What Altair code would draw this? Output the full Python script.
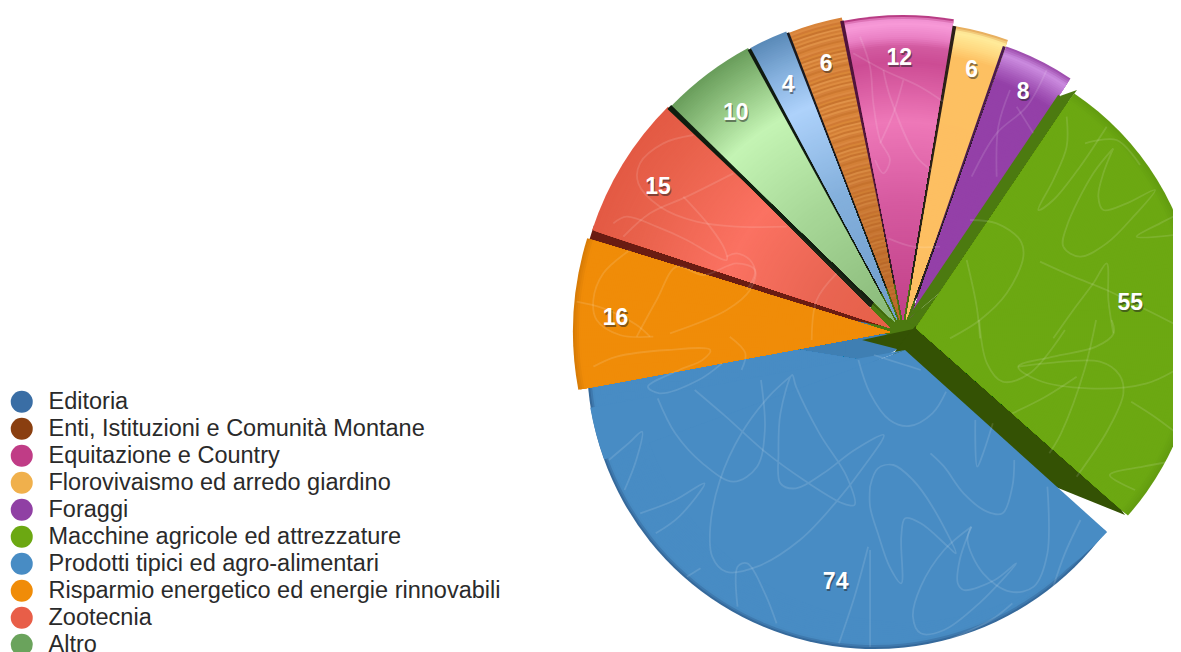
import altair as alt
import pandas as pd

categories = ["Editoria", "Enti, Istituzioni e Comunità Montane", "Equitazione e Country",
              "Florovivaismo ed arredo giardino", "Foraggi", "Macchine agricole ed attrezzature",
              "Prodotti tipici ed agro-alimentari", "Risparmio energetico ed energie rinnovabili",
              "Zootecnia", "Altro"]
values = [4, 6, 12, 6, 8, 55, 74, 16, 15, 10]
legend_colors = ["#3a6ea5", "#8a3f10", "#c03c86", "#f0b04c", "#9040a4", "#6ca812",
                 "#488cc4", "#f08c08", "#e85e48", "#6aa35c"]

OFFX = 8
OFFY = 8


def px(v):
    return v - OFFX


def py(v):
    return v - OFFY


total_order = ["Macchine agricole ed attrezzature", "Prodotti tipici ed agro-alimentari",
               "Risparmio energetico ed energie rinnovabili", "Zootecnia", "Altro", "Editoria",
               "Enti, Istituzioni e Comunità Montane", "Equitazione e Country",
               "Florovivaismo ed arredo giardino", "Foraggi"]
vmap = dict(zip(categories, values))
cum = {}
acc = 0
for c in total_order:
    cum[c] = (acc, acc + vmap[c])
    acc += vmap[c]


def lerp(a, b, t):
    pa = [int(a[i:i + 2], 16) for i in (1, 3, 5)]
    pb = [int(b[i:i + 2], 16) for i in (1, 3, 5)]
    return "#" + "".join(f"{round(x + (y - x) * t):02x}" for x, y in zip(pa, pb))


def ramp(stops, f):
    for (f0, c0), (f1, c1) in zip(stops, stops[1:]):
        if f <= f1:
            return lerp(c0, c1, (f - f0) / (f1 - f0) if f1 > f0 else 0)
    return stops[-1][1]


def rings(cat, stops, r, step=2.0):
    s, e = cum[cat]
    rows = []
    rad = r
    while rad > 0:
        rows.append({"start": s, "end": e, "r": rad, "c": ramp(stops, rad / r)})
        rad -= step
    return pd.DataFrame(rows)


def wedge(df, apex, dom, deg):
    t0, t1 = [d * 3.14159265 / 180 for d in deg]
    return alt.Chart(df).mark_arc().encode(
        x=alt.value(px(apex[0])), y=alt.value(py(apex[1])),
        theta=alt.Theta("start:Q", stack=None, scale=alt.Scale(domain=list(dom), range=[t0, t1])),
        theta2="end:Q",
        radius=alt.Radius("r:Q", scale=None),
        color=alt.Color("c:N", scale=None),
    )


def flat(cat, color, r, apex, deg):
    s, e = cum[cat]
    df = pd.DataFrame([{"start": s, "end": e, "r": r, "c": color}])
    return wedge(df, apex, (s, e), deg)


GREEN, BLUE, ORANGE, ZOO, ALT, EDI, ENTI, PINK, YEL, PUR = total_order

STOPS = {
    GREEN: [(0, "#6ca812"), (0.97, "#6ca812"), (1, "#639c10")],
    BLUE: [(0, "#488cc4"), (0.985, "#488cc4"), (1, "#35699b")],
    ORANGE: [(0, "#f08c08"), (0.98, "#f08c08"), (1, "#d87c06")],
    ZOO: [(0, "#e66048"), (0.25, "#e96552"), (0.55, "#fb7262"), (0.85, "#e9624c"), (1, "#e35a44")],
    ALT: [(0, "#88b878"), (0.45, "#a8d898"), (0.75, "#c4f4b4"), (0.88, "#95c785"), (1, "#6a9e5c")],
    EDI: [(0, "#6f9ccb"), (0.45, "#84b0dc"), (0.75, "#aed2fb"), (0.88, "#86b1de"), (1, "#5b8bb9")],
    PINK: [(0, "#c04088"), (0.39, "#d65aa0"), (0.655, "#ee78b8"), (0.85, "#cc4c94"), (0.9, "#d25aa0"),
           (0.93, "#ea80c4"), (0.975, "#f79ad8"), (0.99, "#f090d0"), (1, "#b83c84")],
    YEL: [(0, "#fdbe62"), (0.9, "#fdc062"), (0.94, "#ffd880"), (0.985, "#ffec9c"), (1, "#e8b060")],
    PUR: [(0, "#9440a8"), (0.88, "#9440a8"), (0.92, "#a85cbc"), (0.975, "#cc8ce0"), (1, "#a050b0")],
}
wood = ["#d8843a", "#dc8a42", "#d07a34", "#d98738", "#c8742e", "#e09248", "#d27e36", "#dd8c40",
        "#ca7630", "#df9046", "#d4803a", "#cc7830"]

# apex, radius, angular span on the drawing (perspective of the picture)
GEOM = {
    PUR: ((910, 320), 290, (19.4, 33.6)),
    YEL: ((906, 320), 298, (9.6, 20.0)),
    PINK: ((903, 320), 305, (348.8, 369.6)),
    ENTI: ((900, 320), 308, (338.9, 349.1)),
    EDI: ((897, 320), 309, (331.7, 339.0)),
    ALT: ((895, 322), 311, (314.0, 331.8)),
    ZOO: ((890, 328), 313.5, (288.2, 314.9)),
    ORANGE: ((890, 332), 317, (259.5, 287.2)),
    GREEN: ((916, 328), 283, (34.0, 131.5)),
}
LABEL_GEOM = {
    ZOO: ((890, 325), (287.7, 314.5), 271),
    ORANGE: ((890, 333), (259.65, 287.4), 275),
    BLUE: ((905, 350), (133, 260.6), 240),
    GREEN: ((916, 328), (34.0, 131.8), 216),
    PUR: ((910, 320), (19.4, 33.1), 256),
    YEL: ((905, 320), (9.6, 20.0), 261),
    PINK: ((903, 320), (348.8, 369.6), 264),
    ENTI: ((900, 320), (338.9, 349.1), 268),
    EDI: ((897, 320), (331.7, 339.0), 261),
    ALT: ((895, 322), (314.0, 331.8), 264),
}

# faint hand-drawn scribbles
ZX, ZY = 2.566, 3.0
blue_scribbles = [
    [(225, 235), (270, 340), (340, 430), (420, 485), (480, 440), (500, 330), (490, 180)],
    [(320, 210), (400, 290), (500, 395), (600, 480), (700, 550), (730, 555), (710, 470), (640, 340), (580, 200),
     (570, 165), (540, 280), (535, 400), (540, 490), (580, 505), (650, 460), (730, 390), (805, 345), (760, 430),
     (680, 550), (590, 660), (480, 740), (400, 755), (365, 710), (360, 620), (385, 480), (440, 340), (510, 230), (565, 170)],
    [(740, 120), (770, 220), (820, 300), (870, 318), (930, 280), (965, 215)],
    [(780, 105), (860, 135), (900, 150)],
    [(1040, 300), (1045, 440), (1060, 400), (1085, 310)],
    [(925, 400), (960, 440), (1010, 520), (1070, 575), (1110, 580), (1135, 500), (1140, 420)],
    [(770, 500), (790, 445), (830, 435), (880, 480), (930, 560), (990, 700), (970, 680), (900, 610), (860, 595),
     (850, 650), (850, 790), (820, 740), (790, 640), (770, 560), (770, 500)],
    [(1030, 620), (1020, 660), (1060, 760), (1130, 815), (1190, 800), (1225, 700), (1225, 500)],
    [(1030, 620), (960, 690), (900, 800), (880, 890), (900, 940), (960, 930), (1050, 850), (1145, 730), (1090, 780),
     (1010, 810), (995, 790), (1000, 720), (1030, 620)],
    [(765, 680), (730, 830), (690, 970)],
    [(770, 690), (770, 980)],
    [(430, 860), (430, 740), (455, 730), (500, 820), (530, 910)],
    [(100, 420), (150, 370), (185, 335), (170, 420), (140, 510)],
    [(180, 580), (270, 540), (345, 490), (280, 590), (220, 640)],
    [(335, 745), (300, 770)],
    [(1135, 850), (1080, 900), (950, 970)],
    [(1310, 600), (1270, 700), (1240, 800)],
    [(1050, 0), (1070, 130), (1110, 185), (1180, 160), (1270, 30)],
    [(1390, 0), (1395, 40), (1350, 80), (1240, 110), (1150, 140), (1200, 180), (1330, 205), (1480, 190), (1568, 140)],
    [(1150, 140), (1220, 130), (1360, 125), (1410, 165), (1420, 220), (1380, 330), (1300, 470)],
    [(1350, 0), (1320, 150), (1260, 340), (1230, 400)],
    [(1440, 245), (1500, 290), (1568, 350)],
    [(1568, 420), (1470, 440), (1385, 465), (1450, 510)],
    [(1135, 280), (1220, 230), (1300, 170)],
    [(60, 140), (120, 110), (250, 90), (360, 90), (340, 120), (280, 150), (200, 200), (230, 220), (330, 180), (390, 130)],
    [(410, 50), (450, 100), (440, 150)],
]
upper_scribbles_right = [
    [(680, 350), (680, 440), (640, 540), (595, 630), (640, 600), (720, 500), (800, 380)],
    [(820, 445), (760, 520), (680, 680), (670, 740), (720, 770), (800, 730), (880, 650), (945, 570), (860, 610),
     (790, 630), (775, 590), (790, 520), (820, 445)],
    [(735, 430), (830, 420), (900, 495)],
    [(1020, 640), (960, 670), (890, 710), (1000, 705)],
    [(600, 785), (700, 830), (800, 870), (900, 920), (1020, 980)],
    [(640, 1015), (700, 930), (760, 850), (800, 790), (805, 900), (820, 1000)],
    [(390, 660), (470, 670), (540, 720), (550, 770), (500, 880), (420, 960), (330, 1015)],
    [(380, 780), (410, 920), (420, 1015)],
    [(60, 110), (90, 200), (100, 310), (120, 420), (150, 480), (130, 520), (105, 480)],
    [(40, 160), (130, 210), (240, 260), (310, 305)],
    [(130, 210), (150, 290), (230, 470), (275, 510)],
    [(190, 240), (160, 340), (120, 430)],
    [(145, 715), (220, 740), (300, 740)],
    [(620, 210), (560, 320), (470, 400), (395, 530)],
    [(510, 270), (475, 380), (470, 530)],
    [(530, 320), (580, 400)],
]
upper_scribbles_left = [
    [(20, 905), (100, 925), (200, 975), (240, 1010)],
    [(180, 750), (100, 820), (70, 900), (80, 960), (150, 1005), (250, 1010)],
    [(200, 1010), (260, 900), (320, 800), (400, 825), (500, 790), (555, 810), (540, 870), (470, 930), (300, 1000)],
    [(800, 820), (740, 900), (725, 1020)],
    [(370, 405), (280, 430), (210, 490), (205, 550), (270, 620), (380, 665), (500, 680), (650, 680)],
    [(490, 520), (350, 590), (240, 640), (160, 710)],
    [(130, 670), (170, 650), (260, 680), (350, 720), (420, 760), (470, 780), (465, 750), (420, 680), (340, 590)],
    [(470, 770), (500, 760), (540, 780), (555, 820), (530, 870)],
]
rows = []
sid = 0
for pts, ox, oy, sx, sy in [
    (blue_scribbles, 570, 320, ZX, ZY),
    (upper_scribbles_right, 840, 0, 3, 3),
    (upper_scribbles_left, 570, 0, 3, 3),
]:
    for line in pts:
        sid += 1
        for k, (a, b) in enumerate(line):
            rows.append({"id": sid, "k": k, "x": px(ox + a / sx), "y": py(oy + b / sy)})
scribble_df = pd.DataFrame(rows)

layers = []
dark_lo = "#345204"
dark_up = "#4c7a10"
# dark hub under the fan
layers.append(flat(PINK, "#1c2414", 280, (902, 322), (295, 392)))
layers.append(flat(GREEN, dark_up, 55, (920, 332), (272, 350)))
layers.append(flat(GREEN, dark_up, 24, (905, 326), (0, 360)))
# lighter strip of the big slice, seen under the orange slice
layers.append(flat(BLUE, "#3f7fb3", 295, (880, 333), (215, 285)))
layers.append(flat(BLUE, "#3f7fb3", 60, (905, 345), (240, 300)))
layers.append(flat(GREEN, dark_lo, 62, (862, 340), (78, 104.4)))
# lower wall of the green slice
layers.append(flat(GREEN, dark_lo, 282, (1125, 515), (292, 325)))
# blue face
layers.append(wedge(rings(BLUE, STOPS[BLUE], 287), (874, 362), cum[BLUE], (126.1, 279.2)))
layers.append(flat(BLUE, "#488cc4", 320, (905, 350), (250, 259.6)))
layers.append(flat(BLUE, "#488cc4", 272, (905, 350), (132, 250)))

# dark red wall seen between the orange and the red slices
layers.append(flat(ZOO, "#6a1c12", 313, (890, 327), (280, 289)))
for cat in [ORANGE]:
    apex, r, deg = GEOM[cat]
    layers.append(wedge(rings(cat, STOPS[cat], r), apex, cum[cat], deg))
for cat in [ZOO, ALT, EDI, ENTI, PINK, YEL, PUR]:
    apex, r, deg = GEOM[cat]
    if cat == ENTI:
        s, e = cum[cat]
        rr = []
        rad = r
        i = 0
        while rad > 0:
            base = wood[i % len(wood)]
            rr.append({"start": s, "end": e, "r": rad, "c": lerp("#a85a22", base, min(1, 0.35 + rad / r))})
            rad -= 2
            i += 1
        df = pd.DataFrame(rr)
    else:
        df = rings(cat, STOPS[cat], r)
    layers.append(wedge(df, apex, cum[cat], deg))

# thin dark walls between neighbouring slices
EDGES = [
    (ALT, "#0f1e0f", 311, (893, 323), (313.5, 314.5)),
    (EDI, "#101a10", 309, (896, 321), (331.3, 332.0)),
    (ENTI, "#1a1a20", 308, (899, 320), (338.6, 339.1)),
    (PINK, "#50143c", 305, (902, 320), (348.3, 349.0)),
    (YEL, "#2c2018", 298, (905, 320), (9.2, 9.9)),
    (PUR, "#4a1a50", 290, (908, 320), (19.1, 19.7)),
]
for cat, col, r, apex, deg in EDGES:
    layers.append(flat(cat, col, r, apex, deg))

# upper wall of the green slice, then the green face
layers.append(flat(GREEN, dark_up, 274, (905, 322), (34.0, 50)))
layers.append(flat(GREEN, dark_up, 60, (905, 322), (50, 110)))
layers.append(flat(GREEN, dark_up, 18, (1077, 90), (216.5, 250.6)))
apex, r, deg = GEOM[GREEN]
layers.append(wedge(rings(GREEN, STOPS[GREEN], r), apex, cum[GREEN], deg))

layers.append(alt.Chart(scribble_df).mark_line(color="#ffffff", opacity=0.12, strokeWidth=1.8,
                                               interpolate="catmull-rom").encode(
    x=alt.X("x:Q", scale=None, axis=None), y=alt.Y("y:Q", scale=None, axis=None),
    detail="id:N", order="k:Q"))

# value labels
for cat in total_order:
    apex, deg, lr = LABEL_GEOM[cat]
    s, e = cum[cat]
    df = pd.DataFrame([{"mid": (s + e) / 2, "value": vmap[cat]}])
    t0, t1 = [d * 3.14159265 / 180 for d in deg]
    enc = dict(
        x=alt.value(px(apex[0])), y=alt.value(py(apex[1])),
        theta=alt.Theta("mid:Q", stack=None, scale=alt.Scale(domain=[s, e], range=[t0, t1])),
        radius=alt.value(lr),
        text=alt.Text("value:Q"),
    )
    font = dict(font="Liberation Sans", fontSize=23, fontWeight="bold", baseline="middle", align="center")
    layers.append(alt.Chart(df).mark_text(color="#202020", opacity=0.5, dx=1, dy=4, **font).encode(**enc))
    layers.append(alt.Chart(df).mark_text(color="#ffffff", dy=2, **font).encode(**enc))

# legend carrier
leg_df = pd.DataFrame({"category": categories})
layers.append(alt.Chart(leg_df).mark_circle(size=0, opacity=1).encode(
    x=alt.value(0), y=alt.value(0),
    color=alt.Color("category:N", scale=alt.Scale(domain=categories, range=legend_colors),
                    legend=alt.Legend(orient="none", legendX=2, legendY=382, title=None, symbolType="circle",
                                      symbolSize=484, symbolStrokeWidth=0, symbolOpacity=1,
                                      labelFont="Liberation Sans", labelFontSize=23.5, labelColor="#2a2a2a",
                                      labelLimit=700, labelOffset=15, rowPadding=2, columns=1,
                                      symbolOffset=0, padding=0)),
))

chart = alt.layer(*layers).resolve_scale(theta="independent", color="independent").properties(
    width=1165, height=644, padding=0, autosize=alt.AutoSizeParams(type="none"),
).configure_view(stroke=None)

chart.save("out.html", embed_options={"renderer": "svg", "actions": False})
